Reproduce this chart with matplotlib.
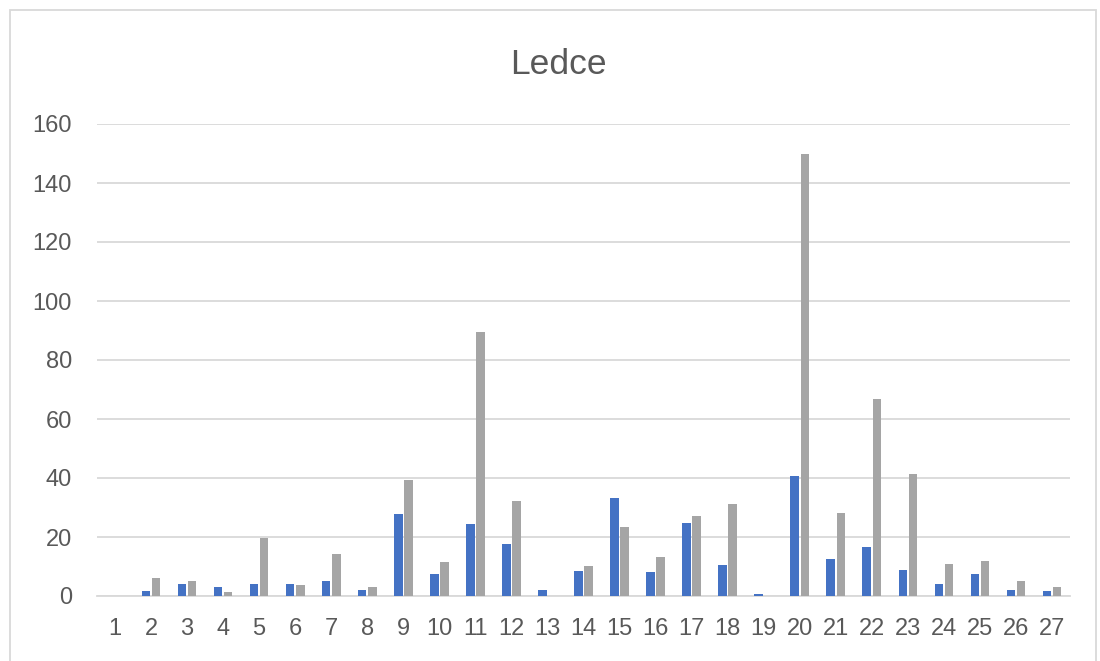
import matplotlib
matplotlib.use("Agg")
import matplotlib.pyplot as plt
from matplotlib.patches import Rectangle
import numpy as np

categories = [str(i) for i in range(1, 28)]
series_blue = [0, 1.7, 4.2, 3.2, 4.2, 4.2, 5.2, 2.2, 27.7, 7.6, 24.3, 17.6, 2.2, 8.6, 33.2,
               8.1, 24.6, 10.6, 0.8, 40.6, 12.7, 16.7, 8.7, 4.2, 7.6, 2.2, 1.7]
series_grey = [0, 6.2, 5.2, 1.2, 19.6, 3.8, 14.1, 3.2, 39.2, 11.6, 89.4, 32.2, 0, 10.2, 23.3,
               13.1, 27.1, 31.2, 0, 150, 28.1, 66.8, 41.5, 10.7, 11.7, 5.2, 3.2]
yticks = [0, 20, 40, 60, 80, 100, 120, 140, 160]

plt.rcParams['font.family'] = ['Liberation Sans', 'DejaVu Sans']

fig = plt.figure(figsize=(11, 6.61), dpi=100)
fig.patches.append(Rectangle((9.5/1100, -0.1), 1086/1100, 1.1 - 10/661, transform=fig.transFigure,
                             fill=False, edgecolor='#D9D9D9', linewidth=1.3))
ax = fig.add_axes([97/1100, 1 - 596/661, 973/1100, (596 - 124)/661])

x = np.arange(1, len(categories) + 1)
w = 0.236
off = 0.14
ax.bar(x - off, series_blue, width=w, color='#4472C4', linewidth=0, zorder=3)
ax.bar(x + off, series_grey, width=w, color='#A5A5A5', linewidth=0, zorder=3)

ax.set_xlim(0.5, len(categories) + 0.5)
ax.set_ylim(0, 160)
ax.set_yticks(yticks)
ax.set_xticks(x)
ax.set_xticklabels(categories)
ax.yaxis.grid(True, color='#D9D9D9', linewidth=1.3, zorder=0)
ax.set_axisbelow(True)
for s in ['top', 'right', 'left']:
    ax.spines[s].set_visible(False)
ax.spines['bottom'].set_color('#D9D9D9')
ax.spines['bottom'].set_linewidth(1.3)
ax.tick_params(axis='both', length=0, labelsize=17, labelcolor='#595959')
ax.tick_params(axis='x', pad=15.5)
ax.tick_params(axis='y', pad=18)

fig.text(558/1100, 1 - 74/661, 'Ledce', ha='center', va='baseline', fontsize=25.5, color='#595959')

fig.savefig('out.png', dpi=100)
